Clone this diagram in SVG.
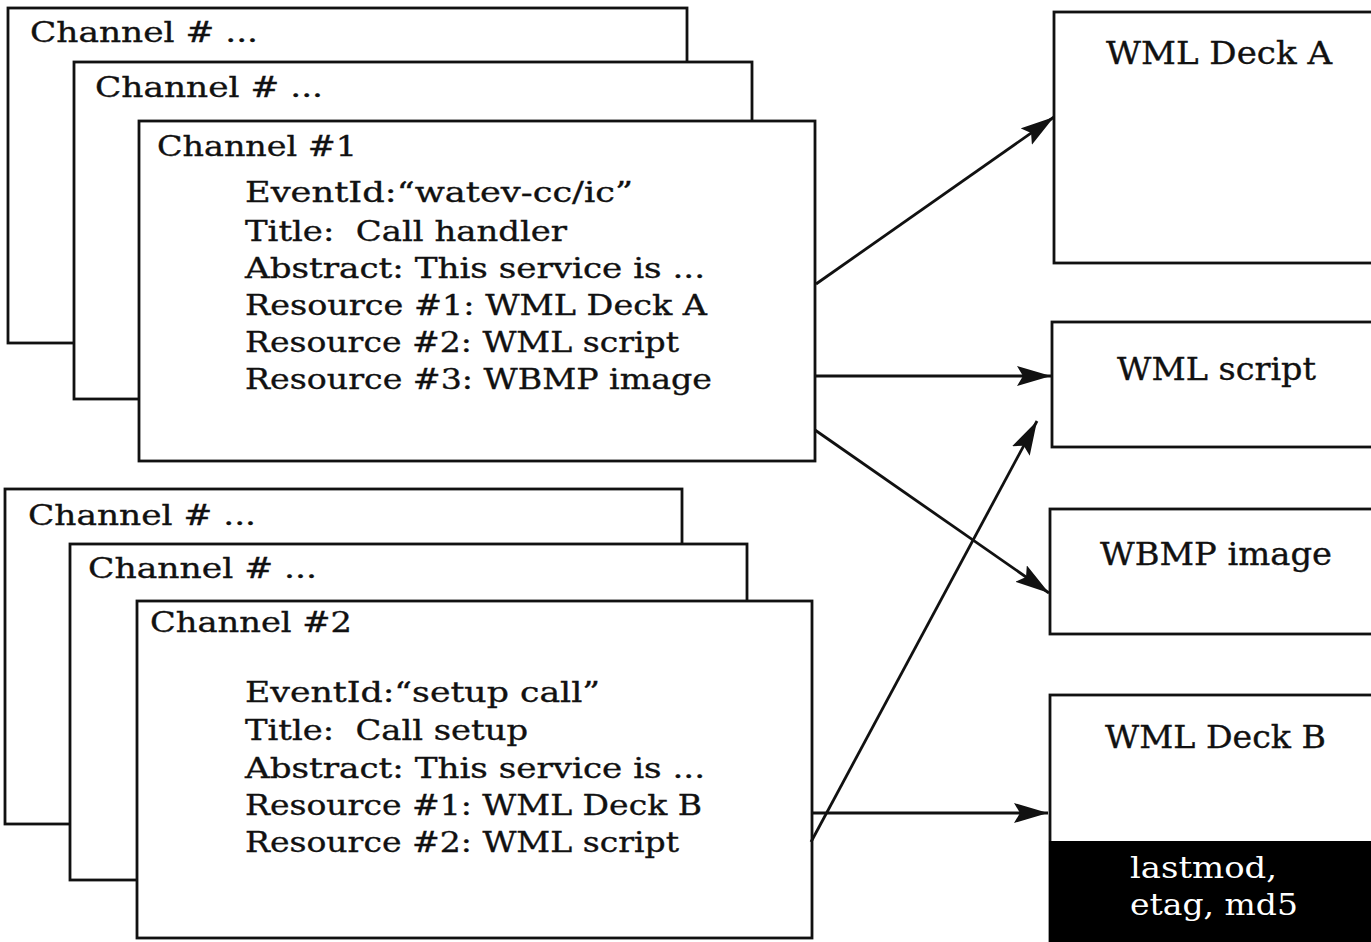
<svg xmlns="http://www.w3.org/2000/svg" width="1371" height="942" viewBox="0 0 1371 942">
  <style>
    .box { fill: #ffffff; stroke: #111111; stroke-width: 2.8; }
    .t { font-family: "DejaVu Serif", "Liberation Serif", serif; fill: #111111; stroke: #111111; stroke-width: 0.35; white-space: pre; }
    .hd { font-size: 28px; }
    .ln { font-size: 28px; }
    .rt { font-size: 31px; }
    .inv { font-family: "DejaVu Serif", "Liberation Serif", serif; font-size: 29px; fill: #ffffff; }
    .conn { stroke: #111111; stroke-width: 2.8; fill: none; marker-end: url(#head); }
  </style>
  <defs>
    <marker id="head" markerUnits="userSpaceOnUse" markerWidth="36" markerHeight="22" refX="34" refY="10" orient="auto">
      <path d="M0,0 L34,10 L0,20 L6,10 z" fill="#111111"/>
    </marker>
  </defs>
  <rect width="1371" height="942" fill="#ffffff"/>

  <!-- upper channel stack -->
  <g id="channel-stack-1">
    <g id="channel-1-back">
      <rect class="box" x="8" y="8" width="679" height="335"/>
      <text class="t hd" x="30" y="42" textLength="228" lengthAdjust="spacingAndGlyphs">Channel # ...</text>
    </g>
    <g id="channel-1-mid">
      <rect class="box" x="74" y="62" width="678" height="337"/>
      <text class="t hd" x="95" y="97" textLength="228" lengthAdjust="spacingAndGlyphs">Channel # ...</text>
    </g>
    <g id="channel-1">
      <rect class="box" x="139" y="121" width="676" height="340"/>
      <text class="t hd" x="157" y="156" textLength="200" lengthAdjust="spacingAndGlyphs">Channel #1</text>
      <text class="t ln" x="245" y="202" textLength="388" lengthAdjust="spacingAndGlyphs">EventId:“watev-cc/ic”</text>
      <text class="t ln" x="245" y="241" textLength="322" lengthAdjust="spacingAndGlyphs" xml:space="preserve">Title:  Call handler</text>
      <text class="t ln" x="245" y="278" textLength="460" lengthAdjust="spacingAndGlyphs">Abstract: This service is ...</text>
      <text class="t ln" x="245" y="315" textLength="462" lengthAdjust="spacingAndGlyphs">Resource #1: WML Deck A</text>
      <text class="t ln" x="245" y="352" textLength="434" lengthAdjust="spacingAndGlyphs">Resource #2: WML script</text>
      <text class="t ln" x="245" y="389" textLength="467" lengthAdjust="spacingAndGlyphs">Resource #3: WBMP image</text>
    </g>
  </g>

  <!-- lower channel stack -->
  <g id="channel-stack-2">
    <g id="channel-2-back">
      <rect class="box" x="5" y="489" width="677" height="335"/>
      <text class="t hd" x="28" y="525" textLength="228" lengthAdjust="spacingAndGlyphs">Channel # ...</text>
    </g>
    <g id="channel-2-mid">
      <rect class="box" x="70" y="544" width="677" height="336"/>
      <text class="t hd" x="88" y="578" textLength="229" lengthAdjust="spacingAndGlyphs">Channel # ...</text>
    </g>
    <g id="channel-2">
      <rect class="box" x="137" y="601" width="675" height="337"/>
      <text class="t hd" x="150" y="632" textLength="202" lengthAdjust="spacingAndGlyphs">Channel #2</text>
      <text class="t ln" x="245" y="702" textLength="355" lengthAdjust="spacingAndGlyphs">EventId:“setup call”</text>
      <text class="t ln" x="245" y="740" textLength="283" lengthAdjust="spacingAndGlyphs" xml:space="preserve">Title:  Call setup</text>
      <text class="t ln" x="245" y="778" textLength="460" lengthAdjust="spacingAndGlyphs">Abstract: This service is ...</text>
      <text class="t ln" x="245" y="815" textLength="457" lengthAdjust="spacingAndGlyphs">Resource #1: WML Deck B</text>
      <text class="t ln" x="245" y="852" textLength="434" lengthAdjust="spacingAndGlyphs">Resource #2: WML script</text>
    </g>
  </g>

  <!-- resources -->
  <g id="wml-deck-a">
    <rect class="box" x="1054" y="12" width="330" height="251"/>
    <text class="t rt" x="1106" y="64" textLength="226" lengthAdjust="spacingAndGlyphs">WML Deck A</text>
  </g>
  <g id="wml-script">
    <rect class="box" x="1052" y="322" width="330" height="125"/>
    <text class="t rt" x="1117" y="380" textLength="199" lengthAdjust="spacingAndGlyphs">WML script</text>
  </g>
  <g id="wbmp-image">
    <rect class="box" x="1050" y="509" width="332" height="125"/>
    <text class="t rt" x="1100" y="565" textLength="232" lengthAdjust="spacingAndGlyphs">WBMP image</text>
  </g>
  <g id="wml-deck-b">
    <rect class="box" x="1050" y="695" width="332" height="260"/>
    <rect x="1049" y="841" width="330" height="110" fill="#000000"/>
    <text class="t rt" x="1105" y="748" textLength="221" lengthAdjust="spacingAndGlyphs">WML Deck B</text>
    <text class="inv" x="1130" y="878" textLength="147" lengthAdjust="spacingAndGlyphs">lastmod,</text>
    <text class="inv" x="1130" y="915" textLength="168" lengthAdjust="spacingAndGlyphs">etag, md5</text>
  </g>

  <!-- connectors -->
  <g id="connectors">
    <line class="conn" x1="816" y1="284" x2="1054" y2="117"/>
    <line class="conn" x1="815" y1="376" x2="1051" y2="376"/>
    <line class="conn" x1="815" y1="430" x2="1049" y2="593"/>
    <line class="conn" x1="811" y1="842" x2="1037" y2="421"/>
    <line class="conn" x1="812" y1="813" x2="1048" y2="813"/>
  </g>
</svg>
